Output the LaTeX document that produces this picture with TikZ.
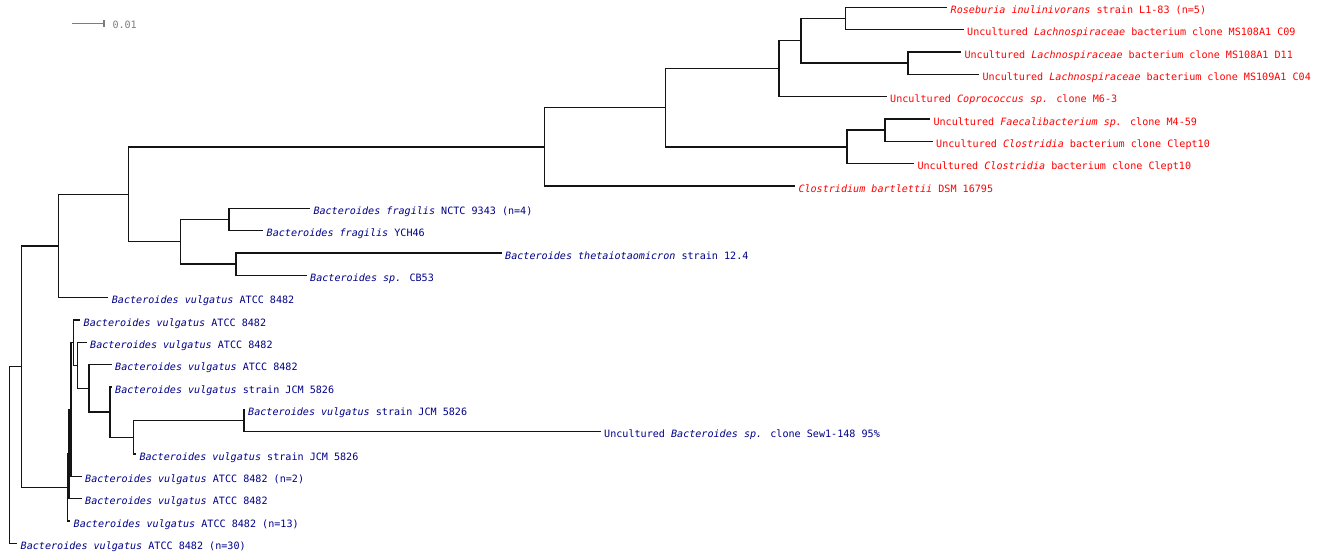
\documentclass[tikz,border=0pt]{standalone}
\usepackage{fontspec}
\newfontfamily\treefont{DejaVu Sans Mono}[ItalicFont={DejaVu Sans Mono Oblique}]
\definecolor{cred}{RGB}{255,0,0}
\definecolor{cnavy}{RGB}{0,0,135}
\definecolor{cgray}{RGB}{125,125,125}
\definecolor{cline}{RGB}{20,20,20}
\begin{document}
\begin{tikzpicture}[x=1pt,y=-1pt,
  branch/.style={draw=cline,line width=1.3pt},
  leaf/.style={anchor=west,inner xsep=3.5pt,inner ysep=0pt,text height=12.6pt,text depth=0pt,
    font=\treefont\fontsize{10.1}{12}\selectfont},
  redleaf/.style={leaf,text=cred},
  navyleaf/.style={leaf,text=cnavy}]
\useasboundingbox (0,0) rectangle (1320,552);
% scale bar
\coordinate (sb0) at (72.3,23.3);
\coordinate (sb1) at (104,23.3);
\coordinate (sbt) at (104,20.3);
\coordinate (sbb) at (104,26.8);
\draw[cgray,line width=1.3pt] (sb0) -- (sb1);
\draw[cgray,line width=1.3pt] (sbt) -- (sbb);
\node[leaf,text=cgray,xshift=4.8pt,yshift=1.5pt] (sblab) at (sb1) {0.01};
% leaves
\node[redleaf] (l1) at (947,7.3) {\textit{Roseburia inulinivorans} strain L1-83 (n=5)};
\node[redleaf] (l2) at (963.5,29.63) {Uncultured \textit{Lachnospiraceae} bacterium clone MS108A1 C09};
\node[redleaf] (l3) at (960.8,51.97) {Uncultured \textit{Lachnospiraceae} bacterium clone MS108A1 D11};
\node[redleaf] (l4) at (978.8,74.3) {Uncultured \textit{Lachnospiraceae} bacterium clone MS109A1 C04};
\node[redleaf] (l5) at (886.5,96.63) {Uncultured \textit{Coprococcus sp.} clone M6-3};
\node[redleaf] (l6) at (929.8,118.97) {Uncultured \textit{Faecalibacterium sp.} clone M4-59};
\node[redleaf] (l7) at (932.5,141.3) {Uncultured \textit{Clostridia} bacterium clone Clept10};
\node[redleaf] (l8) at (913.8,163.63) {Uncultured \textit{Clostridia} bacterium clone Clept10};
\node[redleaf] (l9) at (794.8,185.97) {\textit{Clostridium bartlettii} DSM 16795};
\node[navyleaf] (l10) at (309.8,208.3) {\textit{Bacteroides fragilis} NCTC 9343 (n=4)};
\node[navyleaf] (l11) at (263,230.63) {\textit{Bacteroides fragilis} YCH46};
\node[navyleaf] (l12) at (501.5,252.97) {\textit{Bacteroides thetaiotaomicron} strain 12.4};
\node[navyleaf] (l13) at (306.5,275.3) {\textit{Bacteroides sp.} CB53};
\node[navyleaf] (l14) at (108.2,297.63) {\textit{Bacteroides vulgatus} ATCC 8482};
\node[navyleaf] (l15) at (80,319.97) {\textit{Bacteroides vulgatus} ATCC 8482};
\node[navyleaf] (l16) at (86.5,342.3) {\textit{Bacteroides vulgatus} ATCC 8482};
\node[navyleaf] (l17) at (111.5,364.63) {\textit{Bacteroides vulgatus} ATCC 8482};
\node[navyleaf] (l18) at (111.5,386.97) {\textit{Bacteroides vulgatus} strain JCM 5826};
\node[navyleaf] (l19) at (244.5,409.3) {\textit{Bacteroides vulgatus} strain JCM 5826};
\node[navyleaf] (l20) at (600.5,431.63) {Uncultured \textit{Bacteroides sp.} clone Sew1-148 95\%};
\node[navyleaf] (l21) at (135.8,453.97) {\textit{Bacteroides vulgatus} strain JCM 5826};
\node[navyleaf] (l22) at (81.5,476.3) {\textit{Bacteroides vulgatus} ATCC 8482 (n=2)};
\node[navyleaf] (l23) at (81.5,498.63) {\textit{Bacteroides vulgatus} ATCC 8482};
\node[navyleaf] (l24) at (70,520.97) {\textit{Bacteroides vulgatus} ATCC 8482 (n=13)};
\node[navyleaf] (l25) at (17,543.3) {\textit{Bacteroides vulgatus} ATCC 8482 (n=30)};
% internal nodes
\coordinate (F) at (845.3,18.47);
\coordinate (G) at (908,63.13);
\coordinate (E) at (801,40.8);
\coordinate (C) at (779,68.72);
\coordinate (H) at (885,130.13);
\coordinate (D) at (847,146.88);
\coordinate (B) at (665.3,107.8);
\coordinate (A) at (544.3,146.88);
\coordinate (I) at (128.3,194.34);
\coordinate (Fr) at (229,219.47);
\coordinate (Th) at (236,264.13);
\coordinate (Bac) at (180.3,241.8);
\coordinate (J) at (58.7,245.98);
\coordinate (K) at (21.3,366.75);
\coordinate (root) at (9.3,455.03);
\coordinate (P) at (67.5,487.51);
\coordinate (Qa) at (69,454.05);
\coordinate (Qb) at (71,409.47);
\coordinate (R) at (73.5,342.65);
\coordinate (S) at (77.7,365.33);
\coordinate (T) at (89,388.37);
\coordinate (U) at (110,412.1);
\coordinate (V) at (133.5,437.22);
\coordinate (W) at (244,420.47);
% branches
\draw[branch] (root) |- (K);
\draw[branch] (root) |- (l25.west);
\draw[branch] (K) |- (J);
\draw[branch] (K) |- (P);
\draw[branch] (J) |- (I);
\draw[branch] (J) |- (l14.west);
\draw[branch] (I) |- (A);
\draw[branch] (I) |- (Bac);
\draw[branch] (A) |- (B);
\draw[branch] (A) |- (l9.west);
\draw[branch] (B) |- (C);
\draw[branch] (B) |- (D);
\draw[branch] (C) |- (E);
\draw[branch] (C) |- (l5.west);
\draw[branch] (E) |- (F);
\draw[branch] (E) |- (G);
\draw[branch] (F) |- (l1.west);
\draw[branch] (F) |- (l2.west);
\draw[branch] (G) |- (l3.west);
\draw[branch] (G) |- (l4.west);
\draw[branch] (D) |- (H);
\draw[branch] (D) |- (l8.west);
\draw[branch] (H) |- (l6.west);
\draw[branch] (H) |- (l7.west);
\draw[branch] (Bac) |- (Fr);
\draw[branch] (Bac) |- (Th);
\draw[branch] (Fr) |- (l10.west);
\draw[branch] (Fr) |- (l11.west);
\draw[branch] (Th) |- (l12.west);
\draw[branch] (Th) |- (l13.west);
\draw[branch] (P) |- (Qa);
\draw[branch] (P) |- (l24.west);
\draw[branch] (Qa) |- (Qb);
\draw[branch] (Qa) |- (l23.west);
\draw[branch] (Qb) |- (R);
\draw[branch] (Qb) |- (l22.west);
\draw[branch] (R) |- (l15.west);
\draw[branch] (R) |- (S);
\draw[branch] (S) |- (l16.west);
\draw[branch] (S) |- (T);
\draw[branch] (T) |- (l17.west);
\draw[branch] (T) |- (U);
\draw[branch] (U) |- (l18.west);
\draw[branch] (U) |- (V);
\draw[branch] (V) |- (W);
\draw[branch] (V) |- (l21.west);
\draw[branch] (W) |- (l19.west);
\draw[branch] (W) |- (l20.west);
\end{tikzpicture}
\end{document}
